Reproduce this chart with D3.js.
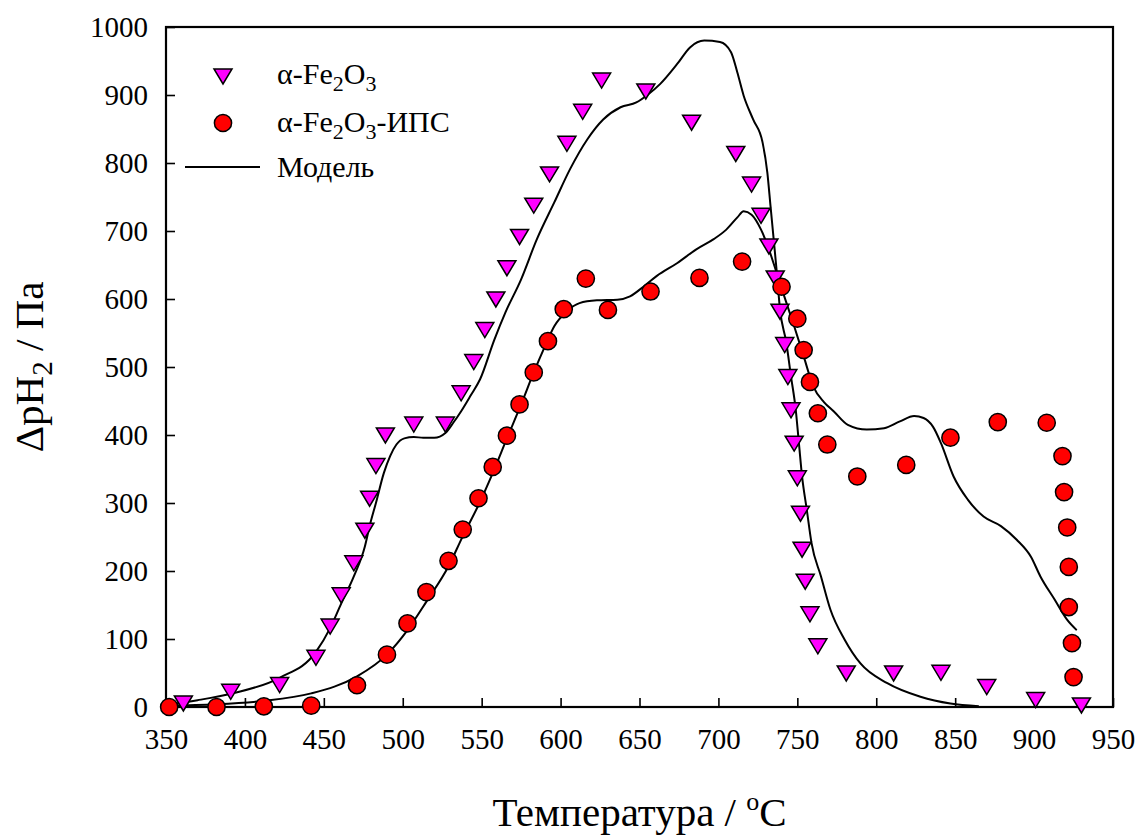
<!DOCTYPE html>
<html>
<head>
<meta charset="utf-8">
<script src="https://cdn.jsdelivr.net/npm/d3@7"></script>
<style>
  body { margin: 0; background: #ffffff; }
  svg { display: block; }
</style>
</head>
<body>
<svg id="chart" width="1139" height="836"></svg>
<script>
// Tick values
const xTicks = [350, 400, 450, 500, 550, 600, 650, 700, 750, 800, 850, 900, 950];
const yTicks = [0, 100, 200, 300, 400, 500, 600, 700, 800, 900, 1000];

// α-Fe2O3 measurements (temperature, °C / ΔpH2, Pa)
const feTemp = [361, 391, 422, 445, 454, 461, 469, 476, 479, 483,
                489, 507, 527, 537, 545, 552, 559, 566, 574, 583,
                593, 604, 614, 626, 654, 683, 711, 721, 727, 732,
                736, 739, 742, 744, 746, 748, 750, 752, 753, 755,
                758, 763, 781, 811, 841, 870, 901, 930];
const feP    = [6, 23, 33, 73, 119, 165, 212, 260, 307, 355,
                400, 416, 416, 462, 508, 555, 600, 646, 692, 738,
                784, 829, 876, 922, 906, 860, 814, 769, 723, 678,
                631, 582, 533, 486, 437, 388, 337, 285, 232, 185,
                137, 90, 50, 50, 51, 30, 11, 3];

// α-Fe2O3-ИПС measurements
const ipsTemp = [352, 382, 412, 442, 471, 490, 503, 515, 529, 538,
                 548, 557, 566, 574, 583, 592, 602, 616, 630, 657,
                 688, 715, 740, 750, 754, 758, 763, 769, 788, 819,
                 847, 877, 908, 918, 919, 921, 922, 922, 924, 925];
const ipsP    = [0, 0, 1, 2, 32, 77, 123, 169, 215, 261,
                 307, 353, 399, 445, 492, 538, 585, 630, 584, 611,
                 631, 655, 618, 571, 525, 478, 432, 386, 339, 356,
                 396, 419, 418, 369, 316, 264, 206, 147, 94, 44];

// Model curve for α-Fe2O3
const modelFeTemp = [350, 370, 392, 422, 445, 454, 461, 469, 476, 479,
                     483, 488, 492, 496, 501, 507, 513, 520, 527, 532,
                     537, 543, 549, 558, 565, 575, 585, 596, 606, 617,
                     627, 638, 648, 655, 663, 674, 682, 691, 701, 708,
                     712, 716, 722, 728, 731, 733, 735, 737, 739, 743,
                     746, 749, 751, 753, 756, 759, 765, 771, 780, 790,
                     807, 828, 847, 865];
const modelFeP    = [3, 10, 20, 43, 81, 116, 152, 192, 236, 266,
                     300, 344, 369, 386, 395, 397, 396, 396, 403, 418,
                     435, 458, 482, 540, 580, 629, 688, 742, 791, 835,
                     864, 882, 889, 900, 916, 946, 970, 980, 978, 963,
                     933, 899, 864, 830, 786, 737, 688, 639, 585, 536,
                     486, 437, 388, 339, 290, 241, 192, 143, 99, 64,
                     35, 15, 5, 1];

// Model curve for α-Fe2O3-ИПС
const modelIpsTemp = [350, 382, 412, 442, 471, 490, 503, 515, 529, 538,
                      548, 557, 566, 575, 583, 590, 596, 604, 612, 623,
                      636, 644, 653, 661, 674, 686, 697, 705, 712, 716,
                      721, 727, 732, 736, 741, 748, 754, 760, 767, 773,
                      782, 794, 805, 815, 824, 830, 836, 841, 849, 858,
                      868, 879, 889, 898, 904, 913, 921, 927];
const modelIpsP    = [2, 4, 9, 20, 45, 77, 113, 155, 207, 251,
                      297, 344, 395, 445, 492, 530, 560, 582, 594, 598,
                      599, 604, 619, 634, 653, 673, 688, 702, 720, 729,
                      724, 702, 673, 645, 609, 560, 516, 472, 448, 435,
                      415, 408, 410, 420, 428, 425, 412, 388, 339, 305,
                      280, 266, 246, 221, 192, 158, 128, 113];

const FONT = "'Liberation Serif', 'Times New Roman', serif";
const svg = d3.select("#chart");
svg.append("rect").attr("width", 1139).attr("height", 836).attr("fill", "#ffffff");

const plot = { left: 166, right: 1113, top: 27, bottom: 707 };
const x = d3.scaleLinear().domain([350, 950]).range([plot.left, plot.right]);
const y = d3.scaleLinear().domain([0, 1000]).range([plot.bottom, plot.top]);

const zip = (a, b) => a.map((v, i) => [v, b[i]]);

// Axes with inward ticks
const xAxis = svg.append("g")
  .attr("transform", `translate(0,${plot.bottom})`)
  .call(d3.axisBottom(x).tickValues(xTicks).tickFormat(d3.format("d"))
    .tickSizeInner(-9).tickSizeOuter(0).tickPadding(21));
const yAxis = svg.append("g")
  .attr("transform", `translate(${plot.left},0)`)
  .call(d3.axisLeft(y).tickValues(yTicks).tickFormat(d3.format("d"))
    .tickSizeInner(-9).tickSizeOuter(0).tickPadding(18));

[xAxis, yAxis].forEach(g => {
  g.attr("font-family", FONT).attr("font-size", 29);
  g.select(".domain").remove();
  g.selectAll(".tick line").attr("stroke", "#000").attr("stroke-width", 1.6);
  g.selectAll(".tick text").attr("fill", "#000")
    .style("font-family", FONT).style("font-size", "29px");
});

// Plot frame
svg.append("rect")
  .attr("x", plot.left).attr("y", plot.top)
  .attr("width", plot.right - plot.left).attr("height", plot.bottom - plot.top)
  .attr("fill", "none").attr("stroke", "#000").attr("stroke-width", 2.2);

// Model curves
const line = d3.line().x(d => x(d[0])).y(d => y(d[1])).curve(d3.curveMonotoneX);
[zip(modelFeTemp, modelFeP), zip(modelIpsTemp, modelIpsP)].forEach(pts => {
  svg.append("path").datum(pts)
    .attr("d", line)
    .attr("fill", "none").attr("stroke", "#000").attr("stroke-width", 2);
});

// Marker shapes
const triPath = "M-9,-7 L9,-7 L0,8 Z";
const CIRCLE_R = 8.6;

svg.append("g").selectAll("path")
  .data(zip(feTemp, feP)).join("path")
  .attr("d", triPath)
  .attr("transform", d => `translate(${x(d[0])},${y(d[1])})`)
  .attr("fill", "#ff00ff").attr("stroke", "#000").attr("stroke-width", 1.5)
  .attr("stroke-linejoin", "miter");

svg.append("g").selectAll("circle")
  .data(zip(ipsTemp, ipsP)).join("circle")
  .attr("cx", d => x(d[0])).attr("cy", d => y(d[1])).attr("r", CIRCLE_R)
  .attr("fill", "#ff0000").attr("stroke", "#000").attr("stroke-width", 1.5);

// Legend
const legend = svg.append("g").style("font-family", FONT).style("font-size", "30px");
legend.append("path").attr("d", triPath).attr("transform", "translate(223,76)")
  .attr("fill", "#ff00ff").attr("stroke", "#000").attr("stroke-width", 1.5);
legend.append("circle").attr("cx", 223).attr("cy", 123).attr("r", CIRCLE_R)
  .attr("fill", "#ff0000").attr("stroke", "#000").attr("stroke-width", 1.5);
legend.append("line").attr("x1", 185).attr("x2", 260).attr("y1", 167).attr("y2", 167)
  .attr("stroke", "#000").attr("stroke-width", 2);

function formula(t, suffix) {
  t.append("tspan").text("α-Fe");
  t.append("tspan").attr("dy", 7).style("font-size", "22px").text("2");
  t.append("tspan").attr("dy", -7).text("O");
  t.append("tspan").attr("dy", 7).style("font-size", "22px").text("3");
  if (suffix) t.append("tspan").attr("dy", -7).text(suffix);
}
formula(legend.append("text").attr("x", 277).attr("y", 84), null);
formula(legend.append("text").attr("x", 277).attr("y", 132), "-ИПС");
legend.append("text").attr("x", 277).attr("y", 177).text("Модель");

// Axis titles
const xTitle = svg.append("text")
  .attr("x", (plot.left + plot.right) / 2).attr("y", 826)
  .attr("text-anchor", "middle")
  .style("font-family", FONT).style("font-size", "41px");
xTitle.append("tspan").text("Температура / ");
xTitle.append("tspan").attr("dy", -16).style("font-size", "26px").text("o");
xTitle.append("tspan").attr("dy", 16).text("C");

const yTitle = svg.append("text")
  .attr("transform", `translate(43,${(plot.top + plot.bottom) / 2}) rotate(-90)`)
  .attr("text-anchor", "middle")
  .style("font-family", FONT).style("font-size", "41px");
yTitle.append("tspan").text("ΔpH");
yTitle.append("tspan").attr("dy", 9).style("font-size", "29px").text("2");
yTitle.append("tspan").attr("dy", -9).text(" / Па");
</script>
</body>
</html>
